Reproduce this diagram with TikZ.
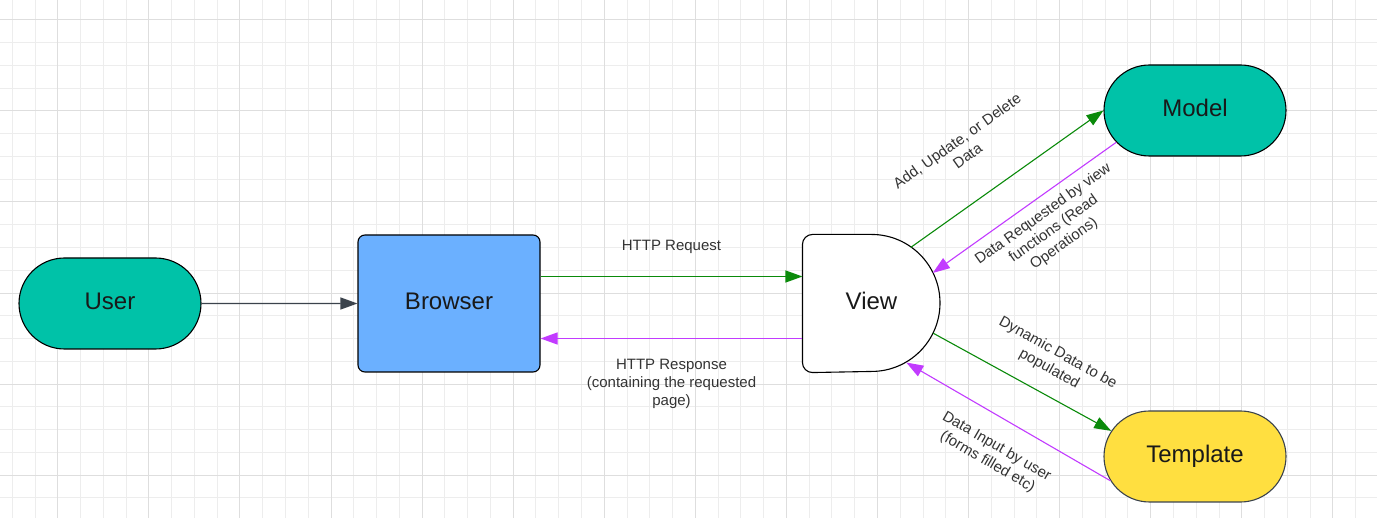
\documentclass[tikz,border=0pt]{standalone}
\usepackage{fontspec}
\setmainfont{Liberation Sans}
\usepackage{tikz}
\usetikzlibrary{arrows.meta, shapes.misc, backgrounds}

\definecolor{turkoois}{HTML}{00C2A8}
\definecolor{lichtblauw}{HTML}{6BB0FF}
\definecolor{geel}{HTML}{FFDF40}
\definecolor{groen}{HTML}{0A8A0A}
\definecolor{paars}{HTML}{C23BFF}
\definecolor{donkergrijs}{HTML}{3B434C}
\definecolor{tekstgrijs}{HTML}{333333}
\definecolor{rasterlicht}{HTML}{EDEDED}
\definecolor{rasterdonker}{HTML}{DEDEDE}

\tikzset{
  % De basis voor alle blokken
  vorm/.style={%
    line width=1.1pt,
    align=center,
    text=black!90,
    text height=17pt,
    text depth=5pt,
    font=\fontsize{24}{28}\selectfont
  },
  % Pillen (User, Model, Template)
  pil/.style={vorm, draw=black, rounded rectangle, minimum width=182pt, minimum height=91pt, inner sep=0pt},
  mens/.style={pil, fill=turkoois},
  opslag/.style={pil, fill=turkoois},
  sjabloon/.style={pil, fill=geel, draw=donkergrijs},
  blok/.style={vorm, draw=black, rectangle, rounded corners=7pt, fill=lichtblauw, minimum width=182pt, minimum height=137pt},
  halfrond/.style={vorm, minimum size=137pt},  % de D-vorm tekenen we zelf
  % Pijlen
  lijn/.style={line width=1.1pt, -{Triangle[length=17pt, width=12pt]}},
  grijs/.style={lijn, donkergrijs},
  heen/.style={lijn, groen},      % verzoek naar voren
  terug/.style={lijn, paars},     % antwoord terug
  uitleg/.style={font=\fontsize{15}{18}\selectfont, text=tekstgrijs, align=center, inner sep=0pt},
  raster/.style={rasterlicht, line width=1pt},
  rastervet/.style={rasterdonker, line width=1.2pt}
}

\begin{document}
\begin{tikzpicture}[x=1pt, y=-1pt]

  \useasboundingbox (0,0) rectangle (1377,518);

  % --- RASTER ---
  \begin{scope}[on background layer]
    \fill[white] (0,0) rectangle (1377,518);
    \foreach \k in {-2,...,57} \draw[raster] ({round(57.3+22.77*\k)+0.5},0) -- ++(0,518);
    \foreach \k in {0,...,21} \draw[raster] (0,{round(19.3+22.77*\k)+0.5}) -- ++(1377,0);
    \foreach \k in {0,4,...,56} \draw[rastervet] ({round(57.3+22.77*\k)+0.5},0) -- ++(0,518);
    \foreach \k in {0,4,...,20} \draw[rastervet] (0,{round(19.3+22.77*\k)+0.5}) -- ++(1377,0);
  \end{scope}

  % --- BLOKKEN ---
  \node[mens]     (user)     at (110,303.5)   {User};
  \node[blok]     (browser)  at (449,303.5)   {Browser};
  \node[halfrond] (view)     at (871.5,303.5) {View};
  \node[opslag]   (model)    at (1195,110.5)  {Model};
  \node[sjabloon] (template) at (1195,456.5)  {Template};

  % D-vorm van View: links recht, rechts een halve cirkel
  \begin{scope}[on background layer]
    \draw[line width=1.1pt, fill=white]
      (view.north) arc[start angle=90, end angle=-90, radius=68.5pt]
      -- ([xshift=10pt]view.south west) arc[start angle=270, end angle=180, radius=10pt]
      -- ([yshift=-10pt]view.north west) arc[start angle=180, end angle=90, radius=10pt]
      -- cycle;
  \end{scope}

  % --- PIJLEN ---
  \draw[grijs] (user) -- (browser);

  \draw[heen] ([yshift=27pt]browser.east) -- node[uitleg, above=22pt] {HTTP Request} ([yshift=27pt]view.west);
  \draw[terug] ([yshift=-35pt]view.west) -- node[uitleg, below=20pt] {HTTP Response\\(containing the requested\\page)} ([yshift=-35pt]browser.east);

  \draw[heen] ([shift={(55:68.5pt)}]view.center) -- node[uitleg, sloped, pos=0.42, above=36pt] {Add, Update, or Delete\\Data} (model.west);
  \draw[terug] (model.202.5) -- node[uitleg, sloped, pos=0.45, below=9pt] {Data Requested by view\\functions (Read\\Operations)} ([shift={(26.5:68.5pt)}]view.center);

  \draw[heen] ([shift={(-25.7:68.5pt)}]view.center) -- node[uitleg, sloped, pos=0.585, above=17pt] {Dynamic Data to be\\populated} (template.163.7);
  \draw[terug] (template.196.5) -- node[uitleg, sloped, pos=0.49, below=20pt] {Data Input by user\\(forms filled etc)} ([shift={(-59.5:68.5pt)}]view.center);

\end{tikzpicture}
\end{document}
